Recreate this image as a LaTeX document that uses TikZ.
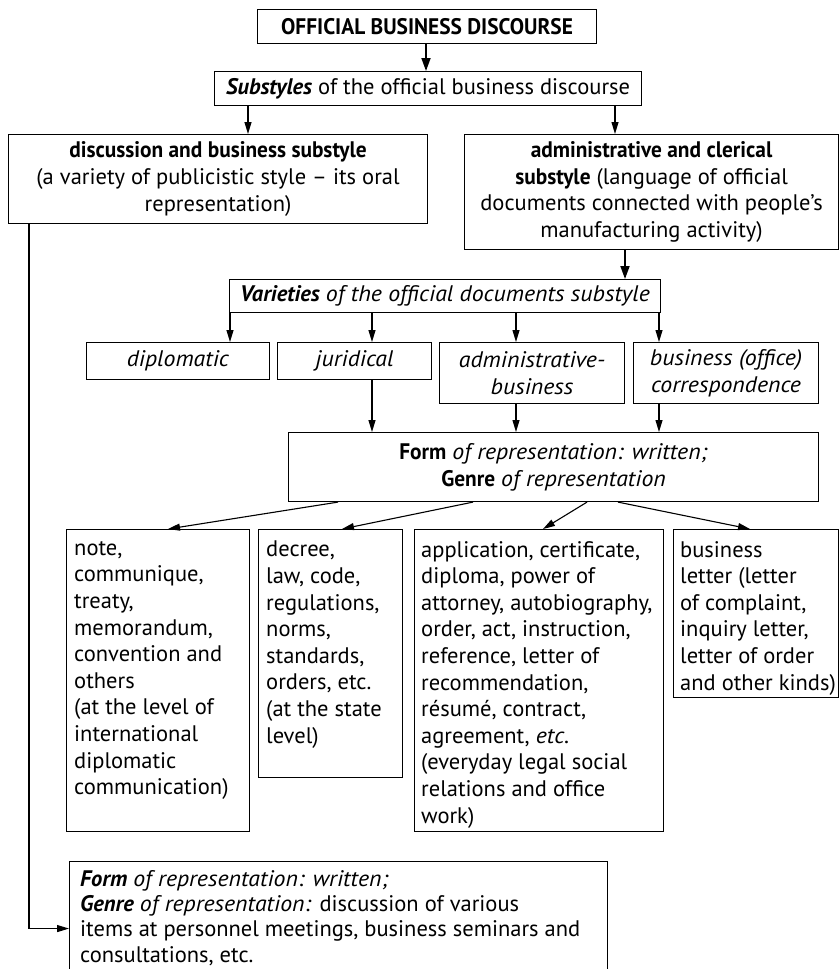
\documentclass[tikz,border=0pt]{standalone}
\usepackage{fontspec}
\setmainfont{PT Sans}[ItalicFeatures={FakeStretch=1.06},BoldFeatures={FakeStretch=0.95}]
\usetikzlibrary{arrows.meta,calc}
\begin{document}
\begin{tikzpicture}[x=1pt,y=-1pt,
  font=\fontsize{22.5}{26.6}\selectfont,
  box/.style={draw, line width=1.1pt, inner sep=0pt, align=center, anchor=north west},
  txt/.style={inner sep=0pt, align=left, anchor=north west},
  arr/.style={-{Triangle[length=12pt,width=7pt]}, line width=1.1pt},
  thickarr/.style={-{Triangle[length=13pt,width=9pt]}, line width=1.8pt}]
\clip (0,0) rectangle (840,969);
% boxes
\node[box,minimum width=339pt,minimum height=34pt] (top) at (257,9) {\textbf{OFFICIAL BUSINESS DISCOURSE}};
\node[box,minimum width=427pt,minimum height=34pt] (subs) at (214,71) {\textbf{\textit{Substyles}} of the official business discourse};
\node[box,minimum width=419pt,minimum height=89pt] (disc) at (8,134) {\textbf{discussion and business substyle}\\(a variety of publicistic style – its oral\\representation)};
\node[box,minimum width=374pt,minimum height=115pt] (adm) at (464,134) {\textbf{administrative and clerical}\\\textbf{substyle} (language of official\\documents connected with people’s\\manufacturing activity)};
\node[box,minimum width=431pt,minimum height=33pt] (var) at (229,279) {\textbf{\textit{Varieties}} \textit{of the official documents substyle}};
\node[box,minimum width=183pt,minimum height=37pt] (dip) at (86,342) {\textit{diplomatic}};
\node[box,minimum width=154pt,minimum height=37pt] (jur) at (277,342) {\textit{juridical}};
\node[box,minimum width=185pt,minimum height=61pt] (adb) at (439,342) {\textit{administrative-}\\\textit{business}};
\node[box,minimum width=185pt,minimum height=61pt] (cor) at (633,342) {\textit{business (office)}\\\textit{correspondence}};
\node[box,minimum width=530pt,minimum height=69pt] (form) at (288,432) {\textbf{Form} \textit{of representation: written;}\\\textbf{Genre} \textit{of representation}};
\node[box,minimum width=183pt,minimum height=302pt] (note) at (66,529) {};
\node[box,minimum width=144pt,minimum height=248pt] (dec) at (258,529) {};
\node[box,minimum width=249pt,minimum height=302pt] (app) at (414,529) {};
\node[box,minimum width=165pt,minimum height=168pt] (let) at (673,529) {};
\node[box,minimum width=538pt,minimum height=134pt] (bot) at (69,861) {};
% texts of the lower boxes
\node[txt] (notet) at (74,541) {note,\\communique,\\treaty,\\memorandum,\\convention and\\others\\(at the level of\\international\\diplomatic\\communication)};
\node[txt] (dect) at (266,541) {decree,\\law, code,\\regulations,\\norms,\\standards,\\orders, etc.\\(at the state\\level)};
\node[txt] (appt) at (421,541) {application, certificate,\\diploma, power of\\attorney, autobiography,\\order, act, instruction,\\reference, letter of\\recommendation,\\résumé, contract,\\agreement, \textit{etc.}\\(everyday legal social\\relations and office\\work)};
\node[txt] (lett) at (680,541) {business\\letter (letter\\of complaint,\\inquiry letter,\\letter of order\\and other kinds)};
\node[txt,font=\fontsize{22.5}{25.3}\selectfont] (bott) at (80,870) {\textbf{\textit{Form}} \textit{of representation: written;}\\\textbf{\textit{Genre}} \textit{of representation:} discussion of various\\items at personnel meetings, business seminars and\\consultations, etc.};
% x positions of connectors
\coordinate (xa) at (426,0);
\coordinate (xb) at (248,0);
\coordinate (xc) at (615,0);
\coordinate (xd) at (625,0);
\coordinate (x1) at (230,0);
\coordinate (x2) at (372,0);
\coordinate (x3) at (516,0);
\coordinate (x4) at (659,0);
\coordinate (f1) at (338,0);
\coordinate (t1) at (168,0);
\coordinate (f2) at (473,0);
\coordinate (t2) at (342,0);
\coordinate (f3) at (587,0);
\coordinate (t3) at (543,0);
\coordinate (f4) at (618,0);
\coordinate (t4) at (750,0);
\coordinate (xv) at (29,0);
% connectors
\draw[thickarr] (top.south -| xa) -- (subs.north -| xa);
\draw[arr] (subs.south -| xb) -- (disc.north -| xb);
\draw[arr] (subs.south -| xc) -- (adm.north -| xc);
\draw[thickarr] (adm.south -| xd) -- (var.north -| xd);
\draw[arr] (var.south -| x1) -- (dip.north -| x1);
\draw[arr] (var.south -| x2) -- (jur.north -| x2);
\draw[arr] (var.south -| x3) -- (adb.north -| x3);
\draw[arr] (var.south -| x4) -- (cor.north -| x4);
\draw[arr] (jur.south -| x2) -- (form.north -| x2);
\draw[arr] (adb.south -| x3) -- (form.north -| x3);
\draw[arr] (cor.south -| x4) -- (form.north -| x4);
\draw[arr] (form.south -| f1) -- (note.north -| t1);
\draw[arr] (form.south -| f2) -- (dec.north -| t2);
\draw[arr] (form.south -| f3) -- (app.north -| t3);
\draw[arr] (form.south -| f4) -- (let.north -| t4);
\draw[arr] (disc.south -| xv) |- (bot.west);
\end{tikzpicture}
\end{document}
